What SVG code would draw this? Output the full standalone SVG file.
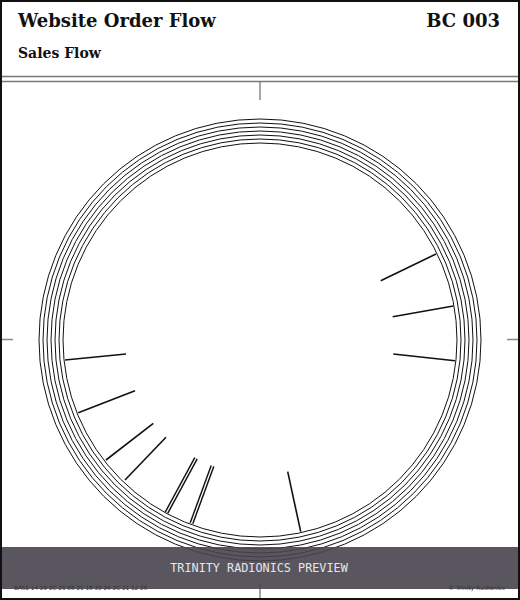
<svg xmlns="http://www.w3.org/2000/svg" width="520" height="600" viewBox="0 0 520 600">
<style>
.title{font-family:"DejaVu Serif",serif;font-weight:bold;fill:#111}
.ring{fill:none;stroke:#111;stroke-width:1}
.spoke{stroke:#111;stroke-width:1.6;stroke-linecap:butt}
.dbl{stroke:#111;stroke-width:4.2}
.dblin{stroke:#fff;stroke-width:1.3}
.rule{stroke:#777;stroke-width:1.3}
.tick{stroke:#888;stroke-width:1.5}
</style>
<rect x="0" y="0" width="520" height="600" fill="#fff"/>
<g id="header">
<text class="title" x="18" y="27" font-size="18">Website Order Flow</text>
<text class="title" x="500" y="27" font-size="18" text-anchor="end">BC 003</text>
<text class="title" x="18" y="58" font-size="14">Sales Flow</text>
<line class="rule" x1="0" y1="76.5" x2="520" y2="76.5"/>
<line class="rule" x1="0" y1="81.5" x2="520" y2="81.5"/>
</g>
<g id="ticks">
<line class="tick" x1="260" y1="82" x2="260" y2="100"/>
<line class="tick" x1="260" y1="583" x2="260" y2="600"/>
<line class="tick" x1="0" y1="339.5" x2="13" y2="339.5"/>
<line class="tick" x1="507" y1="339.5" x2="520" y2="339.5"/>
</g>
<g id="rings">
<circle class="ring" cx="260" cy="340" r="221"/>
<circle class="ring" cx="260" cy="340" r="217"/>
<circle class="ring" cx="260" cy="340" r="213"/>
<circle class="ring" cx="260" cy="340" r="209"/>
<circle class="ring" cx="260" cy="340" r="205"/>
<circle class="ring" cx="260" cy="340" r="201"/>
<circle class="ring" cx="260" cy="340" r="197"/>
</g>
<g id="spokes">
<line class="spoke" x1="380.7" y1="280.7" x2="436" y2="254"/>
<line class="spoke" x1="392.7" y1="316.7" x2="453.3" y2="306"/>
<line class="spoke" x1="393.3" y1="354" x2="455" y2="360.7"/>
<line class="spoke" x1="287.7" y1="471.7" x2="300.7" y2="531.7"/>
<line class="spoke" x1="126" y1="354" x2="65" y2="360"/>
<line class="spoke" x1="135" y1="390.7" x2="78.3" y2="412.7"/>
<line class="spoke" x1="153.3" y1="423.3" x2="106" y2="460"/>
<line class="spoke" x1="166" y1="437.3" x2="125" y2="480"/>
<line class="dbl" x1="196" y1="458.3" x2="166.5" y2="512.7"/>
<line class="dblin" x1="196" y1="458.3" x2="166.5" y2="512.7"/>
<line class="dbl" x1="212.5" y1="466" x2="191.5" y2="523.3"/>
<line class="dblin" x1="212.5" y1="466" x2="191.5" y2="523.3"/>
</g>
<g id="footer">
<rect x="0" y="547" width="520" height="42" fill="#48444f" fill-opacity="0.9"/>
<text x="259" y="572" font-family="DejaVu Sans Mono,monospace" font-size="11.8" fill="#e6e6ea" text-anchor="middle">TRINITY RADIONICS PREVIEW</text>
<text x="14" y="590" font-family="DejaVu Sans,sans-serif" font-size="5.7" fill="#333">BASE 14 20 2C 25 08 21 18 33 26 2C 21 12 26</text>
<text x="505" y="590" font-family="DejaVu Sans,sans-serif" font-size="6" fill="#333" text-anchor="end">© Trinity Radionics</text>
</g>
<rect x="1" y="1" width="518" height="598" fill="none" stroke="#111" stroke-width="2"/>
</svg>
